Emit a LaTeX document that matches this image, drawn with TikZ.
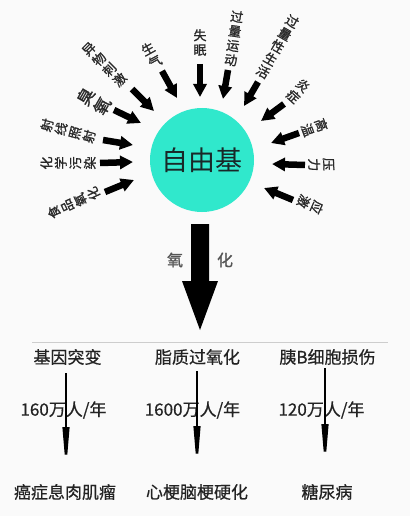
\documentclass[tikz,border=0pt]{standalone}
\usepackage{fontspec}
\setmainfont{Noto Sans CJK SC}
\newfontfamily\cjkb[FakeBold=1.2]{Noto Sans CJK SC}
\newfontfamily\cjkm[FakeBold=0.6]{Noto Sans CJK SC}
\usetikzlibrary{arrows.meta}
\definecolor{bg}{RGB}{250,250,250}
\definecolor{turq}{RGB}{48,232,204}
\definecolor{labgray}{RGB}{40,40,40}
\definecolor{txtgray}{RGB}{35,35,35}
\definecolor{oxgray}{RGB}{85,85,85}
\definecolor{rulegray}{RGB}{205,205,205}
\begin{document}
\begin{tikzpicture}[x=1pt,y=-1pt,
  lab/.style={inner sep=0pt, align=center, anchor=south, text=labgray,
    font=\cjkb\fontsize{13pt}{14.5pt}\selectfont},
  biglab/.style={lab, font=\cjkb\fontsize{17pt}{19pt}\selectfont},
  inarrow/.style={line width=6.5pt, -{Triangle[length=13pt,width=13pt]}, black},
  btxt/.style={inner sep=0pt, text=txtgray, font=\cjkm\fontsize{17pt}{19pt}\selectfont},
  downarrow/.style={line width=2.6pt, -{Triangle[length=46pt,width=6.5pt]}, black},
  oxtxt/.style={inner sep=0pt, text=oxgray, font=\cjkb\fontsize{16pt}{18pt}\selectfont}]
\path[use as bounding box, fill=bg] (0,0) rectangle (410,516);

% centre
\node[circle, fill=turq, minimum size=104pt, inner sep=0pt, text={rgb,255:red,25;green,40;blue,40},
  font=\fontsize{27pt}{30pt}\selectfont] (c) at (202,160) {自由基};

% radial labels
\node[lab, rotate=0]    (l1)  at (200,56)  {失\\眠};
\node[lab, rotate=-8]   (l2)  at (230,66)  {过\\量\\运\\动};
\node[lab, rotate=-30]  (l3)  at (260,77)  {过\\量\\性\\生\\活};
\node[lab, rotate=-42]  (l4)  at (289,101) {炎\\症};
\node[lab, rotate=-70]  (l5)  at (302,132) {高\\温};
\node[lab, rotate=-88]  (l6)  at (308,165) {压\\力};
\node[lab, rotate=-114] (l7)  at (298,199) {应\\激};
\node[lab, rotate=29]   (l8)  at (158,67)  {生\\气};
\node[lab, rotate=45]   (l9)  at (124,84)  {异\\物\\刺\\激};
\node[biglab, rotate=60](l10) at (109,110) {臭\\氧};
\node[lab, rotate=75]   (l11) at (95,138)  {射\\线\\照\\射};
\node[lab, rotate=90]   (l12) at (96,163)  {化\\学\\污\\染};
\node[lab, rotate=115]  (l13) at (99,191)  {食\\品\\氧\\化};

% arrow end points
\coordinate (a1s) at (200,64);  \coordinate (a1e) at (200,97);
\coordinate (a2s) at (228,70);  \coordinate (a2e) at (223,99);
\coordinate (a3s) at (258,82);  \coordinate (a3e) at (244,106);
\coordinate (a4s) at (284,104); \coordinate (a4e) at (261,121);
\coordinate (a5s) at (299,133); \coordinate (a5e) at (271,143);
\coordinate (a6s) at (305,165); \coordinate (a6e) at (272,164);
\coordinate (a7s) at (293,200); \coordinate (a7e) at (264,188);
\coordinate (a8s) at (162,71);  \coordinate (a8e) at (177,98);
\coordinate (a9s) at (132,89);  \coordinate (a9e) at (154,111);
\coordinate (a10s) at (114,110); \coordinate (a10e) at (141,123);
\coordinate (a11s) at (103,140); \coordinate (a11e) at (133,145);
\coordinate (a12s) at (100,163); \coordinate (a12e) at (133,162);
\coordinate (a13s) at (105,192); \coordinate (a13e) at (134,180);
\foreach \i in {1,...,13}{\draw[inarrow] (a\i s) -- (a\i e);}

% big oxidation arrow
\fill[black] (191,224) -- (209,224) -- (209,281) -- (218,281) -- (200,330)
  -- (182,281) -- (191,281) -- cycle;
\node[oxtxt] (ox1) at (175,260) {氧};
\node[oxtxt] (ox2) at (225,260) {化};

% rule
\coordinate (r1) at (32,342); \coordinate (r2) at (388,342);
\draw[rulegray, line width=0.8pt] (r1) -- (r2);

% bottom columns
\node[btxt] (t1) at (67.5,357) {基因突变};
\node[btxt] (t2) at (197.5,357) {脂质过氧化};
\node[btxt] (t3) at (327.5,357) {胰B细胞损伤};
\node[btxt] (m1) at (63.5,410) {160万人/年};
\node[btxt] (m2) at (192.5,410) {1600万人/年};
\node[btxt] (m3) at (321.5,410) {120万人/年};
\node[btxt] (d1) at (65,492) {癌症息肉肌瘤};
\node[btxt] (d2) at (197,492) {心梗脑梗硬化};
\node[btxt] (d3) at (327,492) {糖尿病};

\coordinate (b1s) at (66,373);  \coordinate (b1e) at (66,473);
\coordinate (b2s) at (197,371); \coordinate (b2e) at (197,472);
\coordinate (b3s) at (325,368); \coordinate (b3e) at (325,470);
\foreach \i in {1,2,3}{\draw[downarrow] (b\i s) -- (b\i e);}
\end{tikzpicture}
\end{document}
